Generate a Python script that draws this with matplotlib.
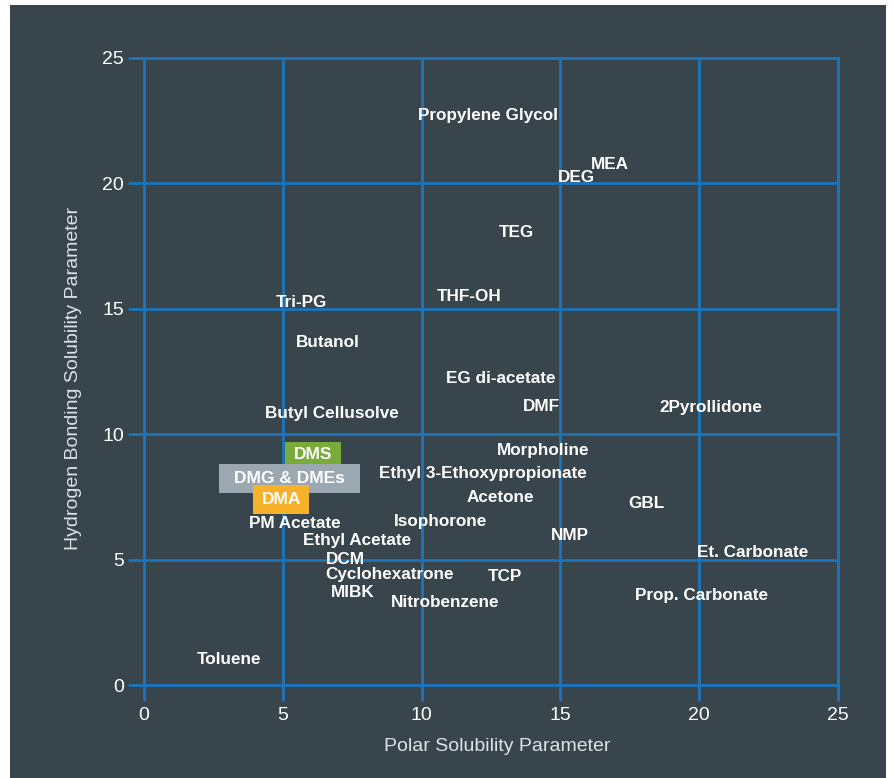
import matplotlib
matplotlib.use("Agg")
import matplotlib.pyplot as plt
from matplotlib.patches import Rectangle
from matplotlib.transforms import ScaledTranslation

plt.rcParams['font.family'] = ['Liberation Sans', 'DejaVu Sans']

# ---- data ----
solvents = ["Propylene Glycol", "MEA", "DEG", "TEG", "Tri-PG", "THF-OH", "Butanol",
            "EG di-acetate", "DMF", "2Pyrollidone", "Butyl Cellusolve", "Morpholine",
            "Ethyl 3-Ethoxypropionate", "Acetone", "GBL", "Isophorone", "PM Acetate",
            "NMP", "Ethyl Acetate", "Et. Carbonate", "DCM", "Cyclohexatrone", "TCP",
            "MIBK", "Nitrobenzene", "Prop. Carbonate", "Toluene"]
polar = [12.38, 16.77, 15.56, 13.40, 5.67, 11.71, 6.63,
         12.86, 14.33, 20.41, 6.75, 14.37,
         12.20, 12.85, 18.10, 10.69, 5.45,
         15.34, 7.66, 21.94, 7.27, 8.86, 12.99,
         7.53, 10.84, 20.09, 3.06]
hbond = [22.72, 20.75, 20.25, 18.03, 15.26, 15.50, 13.65,
         12.23, 11.12, 11.05, 10.84, 9.36,
         8.45, 7.48, 7.22, 6.52, 6.42,
         5.95, 5.76, 5.28, 5.00, 4.40, 4.33,
         3.68, 3.30, 3.58, 1.03]

boxed = ["DMS", "DMG & DMEs", "DMA"]
boxed_polar = [6.09, 5.24, 4.94]
boxed_hbond = [9.18, 8.25, 7.41]
boxed_colors = ["#79ab3a", "#9ba7b1", "#f8b12a"]
boxed_size_px = [(56, 26), (141, 29), (56, 29)]

ticks = [0, 5, 10, 15, 20, 25]

# ---- style ----
BG = "#38454c"
GRID = "#1c74bb"
W, H = 895, 778

fig = plt.figure(figsize=(W / 100, H / 100), dpi=100, facecolor="white")
panel = Rectangle((10 / W, 0), (886 - 10) / W, 1 - 5 / H,
                  transform=fig.transFigure, facecolor=BG,
                  edgecolor="none", zorder=-10)
fig.patches.append(panel)

left, right, top, bottom = 144, 838, 58, 685
ax = fig.add_axes([left / W, 1 - bottom / H, (right - left) / W, (bottom - top) / H])
ax.set_zorder(1)
ax.set_facecolor(BG)
ax.set_xlim(0, 25)
ax.set_ylim(0, 25)
ax.set_xticks(ticks)
ax.set_yticks(ticks)
ax.grid(True, color=GRID, linewidth=2.0)
ax.set_axisbelow(True)
for s in ax.spines.values():
    s.set_color(GRID)
    s.set_linewidth(2.0)
ax.tick_params(axis="both", direction="out", length=11.5, width=2.0, color=GRID,
               labelcolor="white", labelsize=14)
ax.tick_params(axis="x", pad=4)
ax.tick_params(axis="y", pad=3)

ax.set_xlabel("Polar Solubility Parameter", color="#dde2e5", fontsize=14)
ax.set_ylabel("Hydrogen Bonding Solubility Parameter", color="#dde2e5", fontsize=14)
ax.xaxis.set_label_coords((497 - left) / (right - left), (bottom - 738) / (bottom - top))
ax.yaxis.set_label_coords((82 - left) / (right - left), 1 - (378 - top) / (bottom - top))

for name, x, y in zip(solvents, polar, hbond):
    ax.text(x, y, name, color="white", fontsize=12.3, fontweight="bold",
            ha="center", va="center", zorder=5)

for i, (name, x, y, c, (bw, bh)) in enumerate(zip(boxed, boxed_polar, boxed_hbond,
                                                     boxed_colors, boxed_size_px)):
    tr = fig.dpi_scale_trans + ScaledTranslation(x, y, ax.transData)
    ax.add_patch(Rectangle((-bw / 200, -bh / 200), bw / 100, bh / 100, transform=tr,
                           facecolor=c, edgecolor="none", zorder=6 + 2 * i,
                           clip_on=False))
    ax.text(x, y, name, color="white", fontsize=12.5, fontweight="bold",
            ha="center", va="center", zorder=7 + 2 * i)

fig.savefig("out.png", dpi=100, facecolor=fig.get_facecolor())
